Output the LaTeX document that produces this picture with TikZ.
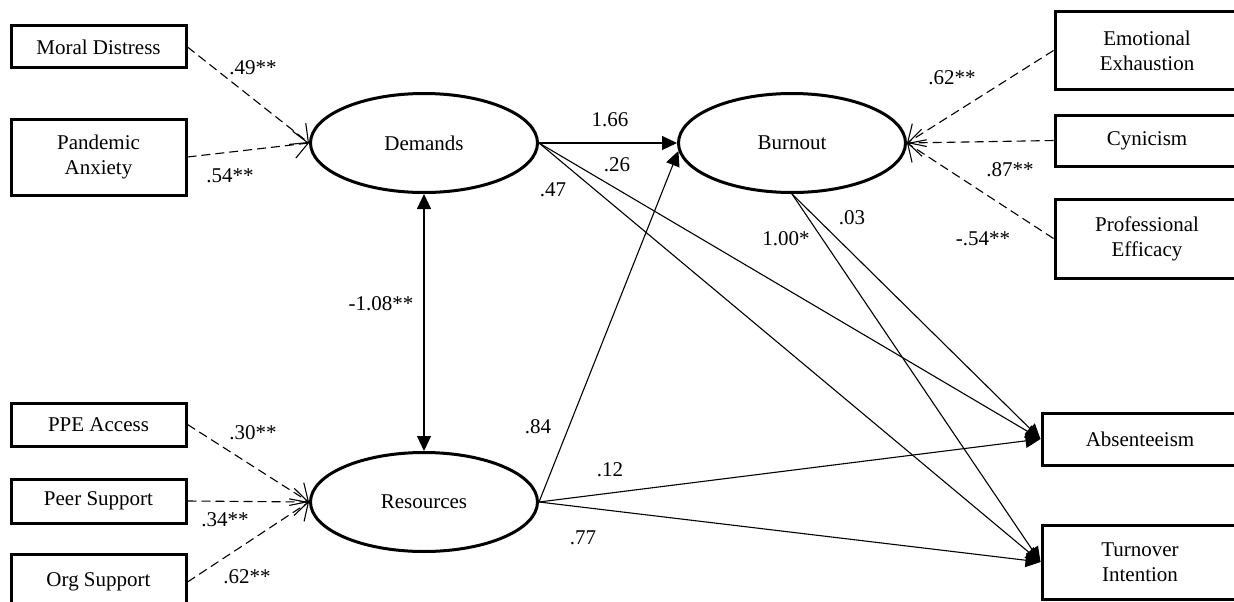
\documentclass[tikz,border=0pt]{standalone}
\usepackage{fontspec}
\setmainfont{Liberation Serif}
\usepackage{tikz}
\usetikzlibrary{arrows.meta}
\usetikzlibrary{shapes}

\begin{document}
\begin{tikzpicture}[x=1pt, y=-1pt,
				   every node/.style={font=\fontsize{21}{25}\selectfont, align=center, inner sep=0pt},
				   obs/.style={rectangle, draw=black, line width=3pt, minimum width=175pt},
				   latent/.style={ellipse, draw=black, line width=3pt, minimum width=227pt, minimum height=99pt},
				   loading/.style={dashed, dash pattern=on 9pt off 5pt, line width=1.1pt, -{Straight Barb[length=14pt, width=27pt, line width=1.1pt]}},
				   reg/.style={line width=1.1pt, -{Triangle[length=15pt, width=14pt]}},
				   coef/.style={}]
\clip (0,0) rectangle (1234,602);
\node[obs, minimum height=42pt] (MD) at (98.5,47) {Moral Distress};
\node[obs, minimum height=76pt] (PA) at (98.5,157) {Pandemic\\Anxiety};
\node[obs, minimum height=43pt] (PPE) at (98.5,424.5) {PPE Access};
\node[obs, minimum height=44pt] (PS) at (98.5,501) {Peer Support};
\node[obs, minimum height=56pt] (OS) at (98.5,582) {Org Support};

\node[latent] (D) at (424,143) {Demands};
\node[latent] (R) at (424,502) {Resources};
\node[latent] (B) at (792,143) {Burnout};

\node[obs, minimum width=184pt, minimum height=77pt] (EE) at (1147,50.5) {Emotional\\Exhaustion};
\node[obs, minimum width=184pt, minimum height=51pt] (C) at (1147,140.5) {Cynicism};
\node[obs, minimum width=184pt, minimum height=79pt] (PE) at (1147,238.5) {Professional\\Efficacy};
\node[obs, minimum width=196pt, minimum height=52pt] (A) at (1140,439) {Absenteeism};
\node[obs, minimum width=196pt, minimum height=74pt] (T) at (1140,562) {Turnover\\Intention};

\draw[loading] (MD.east) -- (D.west);
\draw[loading] (PA.east) -- (D.west);
\draw[loading] (PPE.east) -- (R.west);
\draw[loading] (PS.east) -- (R.west);
\draw[loading] (OS.east) -- (R.west);
\draw[loading] (EE.west) -- (B.east);
\draw[loading] (C.west) -- (B.east);
\draw[loading] (PE.west) -- (B.east);

\draw[reg, {Triangle[length=15pt, width=14pt]}-{Triangle[length=15pt, width=14pt]}] (D.south) -- (R.north);
\draw[reg] (D.east) -- (B.west);
\draw[reg] (R.east) -- (B.184);
\draw[reg] (D.east) -- (A.west);
\draw[reg] (D.east) -- (T.west);
\draw[reg] (B.south) -- (A.west);
\draw[reg] (B.south) -- (T.west);
\draw[reg] (R.east) -- (A.west);
\draw[reg] (R.east) -- (T.west);

\node[coef] (c1) at (253,68) {.49**};
\node[coef] (c2) at (230,176) {.54**};
\node[coef] (c3) at (253,433) {.30**};
\node[coef] (c4) at (225,520) {.34**};
\node[coef] (c5) at (247,577) {.62**};
\node[coef] (c6) at (381,304) {-1.08**};
\node[coef] (c7) at (610,120) {1.66};
\node[coef] (c8) at (617,165) {.26};
\node[coef] (c9) at (553,190) {.47};
\node[coef] (c10) at (538,427) {.84};
\node[coef] (c11) at (610,470) {.12};
\node[coef] (c12) at (583,538) {.77};
\node[coef] (c13) at (786,239) {1.00*};
\node[coef] (c14) at (852,218) {.03};
\node[coef] (c15) at (952,78) {.62**};
\node[coef] (c16) at (1010,170) {.87**};
\node[coef] (c17) at (983,239) {-.54**};
\end{tikzpicture}
\end{document}
